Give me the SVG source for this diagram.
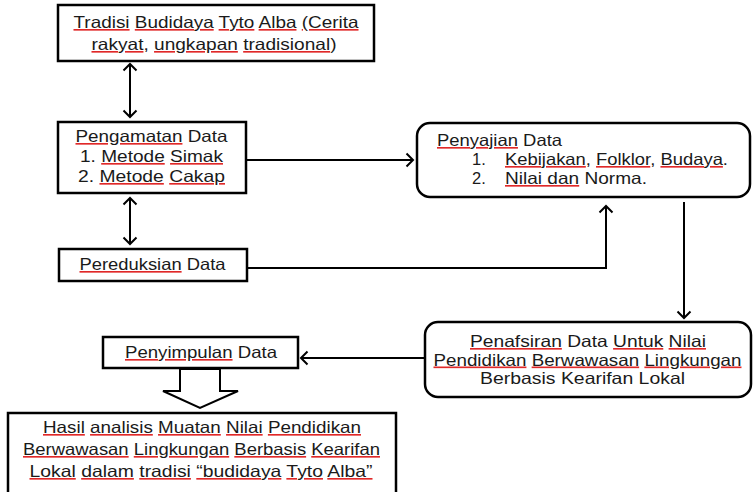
<svg xmlns="http://www.w3.org/2000/svg" width="754" height="492" viewBox="0 0 754 492">
<style>
.box{fill:#fff;stroke:#000;stroke-width:2.5}
.ln{fill:none;stroke:#000;stroke-width:2}
text{font-family:"Liberation Sans",Arial,sans-serif;font-size:16.5px;fill:#1a1a1a}
.c{text-anchor:middle}
.u{fill:#e02828;text-decoration:underline}
.k{fill:#1a1a1a}
</style>
<defs>
<marker id="ah" viewBox="-8 -8 10 16" markerWidth="10" markerHeight="16" refX="0" refY="0" orient="auto-start-reverse" markerUnits="userSpaceOnUse">
<path d="M-6.5,-6.5 L0,0 L-6.5,6.5" fill="none" stroke="#000" stroke-width="2"/>
</marker>
</defs>
<g id="connectors">
<path class="ln" d="M130,64 V117" marker-start="url(#ah)" marker-end="url(#ah)"/>
<path class="ln" d="M130,198 V244" marker-start="url(#ah)" marker-end="url(#ah)"/>
<path class="ln" d="M247,160 H413" marker-end="url(#ah)"/>
<path class="ln" d="M248,268 H606 V206" marker-end="url(#ah)"/>
<path class="ln" d="M684,202 V318" marker-end="url(#ah)"/>
<path class="ln" d="M425,358 H301" marker-end="url(#ah)"/>
<polygon class="ln" style="fill:#fff" points="180,369 180,391 163,391 200,408 238,391 220,391 220,369"/>
</g>
<g id="tradisi">
<rect class="box" x="58" y="5" width="316" height="56"/>
<text class="c" x="216" y="28" textLength="285" lengthAdjust="spacingAndGlyphs"><tspan class="u"><tspan class="k">Tradisi</tspan></tspan> <tspan class="u"><tspan class="k">Budidaya</tspan></tspan> <tspan class="u"><tspan class="k">Tyto</tspan></tspan> <tspan class="u"><tspan class="k">Alba</tspan></tspan> <tspan class="u"><tspan class="k">(Cerita</tspan></tspan></text>
<text class="c" x="214" y="50" textLength="245" lengthAdjust="spacingAndGlyphs"><tspan class="u"><tspan class="k">rakyat</tspan></tspan>, <tspan class="u"><tspan class="k">ungkapan</tspan></tspan> <tspan class="u"><tspan class="k">tradisional</tspan></tspan>)</text>
</g>
<g id="pengamatan">
<rect class="box" x="58" y="122" width="188" height="71"/>
<text class="c" x="151.5" y="142" textLength="152" lengthAdjust="spacingAndGlyphs"><tspan class="u"><tspan class="k">Pengamatan</tspan></tspan> Data</text>
<text class="c" x="151.5" y="162" textLength="143" lengthAdjust="spacingAndGlyphs">1. <tspan class="u"><tspan class="k">Metode</tspan></tspan> <tspan class="u"><tspan class="k">Simak</tspan></tspan></text>
<text class="c" x="151.5" y="182" textLength="147" lengthAdjust="spacingAndGlyphs">2. <tspan class="u"><tspan class="k">Metode</tspan></tspan> <tspan class="u"><tspan class="k">Cakap</tspan></tspan></text>
</g>
<g id="pereduksian">
<rect class="box" x="59" y="249" width="188" height="32"/>
<text class="c" x="152.5" y="270" textLength="146" lengthAdjust="spacingAndGlyphs"><tspan class="u"><tspan class="k">Pereduksian</tspan></tspan> Data</text>
</g>
<g id="penyajian">
<rect class="box" x="417" y="123" width="333" height="74" rx="13"/>
<text x="437" y="146" textLength="125" lengthAdjust="spacingAndGlyphs"><tspan class="u"><tspan class="k">Penyajian</tspan></tspan> Data</text>
<text x="472" y="165">1.</text>
<text x="505" y="165" textLength="223" lengthAdjust="spacingAndGlyphs"><tspan class="u"><tspan class="k">Kebijakan</tspan></tspan>, <tspan class="u"><tspan class="k">Folklor</tspan></tspan>, <tspan class="u"><tspan class="k">Budaya</tspan></tspan>.</text>
<text x="472" y="184">2.</text>
<text x="505" y="184" textLength="142" lengthAdjust="spacingAndGlyphs"><tspan class="u"><tspan class="k">Nilai dan</tspan></tspan> Norma.</text>
</g>
<g id="penafsiran">
<rect class="box" x="425" y="322" width="326" height="75" rx="13"/>
<text class="c" x="588" y="347" textLength="236" lengthAdjust="spacingAndGlyphs"><tspan class="u"><tspan class="k">Penafsiran</tspan></tspan> Data <tspan class="u"><tspan class="k">Untuk</tspan></tspan> <tspan class="u"><tspan class="k">Nilai</tspan></tspan></text>
<text class="c" x="587.5" y="365.5" textLength="308" lengthAdjust="spacingAndGlyphs"><tspan class="u"><tspan class="k">Pendidikan</tspan></tspan> <tspan class="u"><tspan class="k">Berwawasan</tspan></tspan> <tspan class="u"><tspan class="k">Lingkungan</tspan></tspan></text>
<text class="c" x="582.5" y="384" textLength="205" lengthAdjust="spacingAndGlyphs">Berbasis Kearifan Lokal</text>
</g>
<g id="penyimpulan">
<rect class="box" x="103" y="337" width="195" height="31"/>
<text class="c" x="201" y="358" textLength="152" lengthAdjust="spacingAndGlyphs"><tspan class="u"><tspan class="k">Penyimpulan</tspan></tspan> Data</text>
</g>
<g id="hasil">
<rect class="box" x="8" y="413" width="388" height="90"/>
<text class="c" x="202" y="433" textLength="318" lengthAdjust="spacingAndGlyphs"><tspan class="u"><tspan class="k">Hasil</tspan></tspan> <tspan class="u"><tspan class="k">analisis</tspan></tspan> <tspan class="u"><tspan class="k">Muatan</tspan></tspan> <tspan class="u"><tspan class="k">Nilai</tspan></tspan> <tspan class="u"><tspan class="k">Pendidikan</tspan></tspan></text>
<text class="c" x="201.5" y="455" textLength="357" lengthAdjust="spacingAndGlyphs"><tspan class="u"><tspan class="k">Berwawasan</tspan></tspan> <tspan class="u"><tspan class="k">Lingkungan</tspan></tspan> <tspan class="u"><tspan class="k">Berbasis</tspan></tspan> <tspan class="u"><tspan class="k">Kearifan</tspan></tspan></text>
<text class="c" x="201" y="477" textLength="343" lengthAdjust="spacingAndGlyphs"><tspan class="u"><tspan class="k">Lokal</tspan></tspan> <tspan class="u"><tspan class="k">dalam</tspan></tspan> <tspan class="u"><tspan class="k">tradisi</tspan></tspan> <tspan class="u"><tspan class="k">“budidaya</tspan></tspan> <tspan class="u"><tspan class="k">Tyto</tspan></tspan> <tspan class="u"><tspan class="k">Alba”</tspan></tspan></text>
</g>
</svg>
